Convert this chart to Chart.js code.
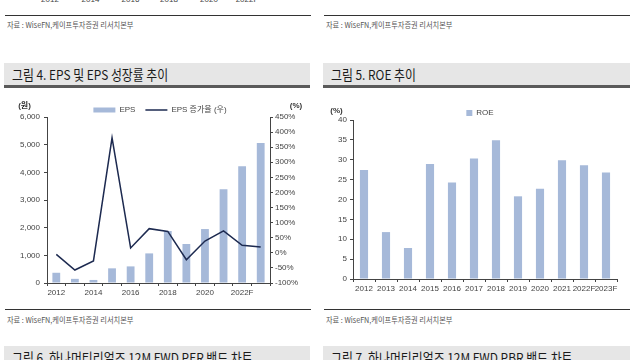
<!DOCTYPE html>
<html><head><meta charset="utf-8">
<script src="https://cdn.jsdelivr.net/npm/chart.js@4.4.0/dist/chart.umd.min.js"></script>
<style>
html,body{margin:0;padding:0;background:#fff;width:640px;height:360px;overflow:hidden;position:relative;font-family:'Noto Sans CJK KR','Liberation Sans',sans-serif;}
.rule{position:absolute;height:1px;background:#333;}
.src{position:absolute;font-size:8px;color:#555;line-height:10px;white-space:nowrap;transform:scaleX(0.9);transform-origin:0 50%;}
.tbar{position:absolute;height:22px;background:#e6e6e6;border-bottom:3px solid #5a5a5a;overflow:hidden;}
.ttl{position:absolute;left:8px;top:0;line-height:22px;font-size:13.5px;color:#1a1a1a;white-space:nowrap;transform:scaleX(0.88);transform-origin:0 50%;}
.cut{position:absolute;top:-5px;font-size:8px;line-height:10px;color:#444;font-family:'Liberation Sans',sans-serif;transform:translateX(-50%);white-space:nowrap;}
canvas{position:absolute;}
</style>
</head>
<body>
<div id="cutLabels"></div>
<div class="rule" style="left:5px;top:15px;width:306px;"></div>
<div class="src" style="left:7px;top:20px;">자료 : WiseFN,케이프투자증권 리서치본부</div>
<div class="rule" style="left:324px;top:15px;width:306px;"></div>
<div class="src" style="left:326px;top:20px;">자료 : WiseFN,케이프투자증권 리서치본부</div>

<div class="tbar" style="left:4px;top:63px;width:306px;"><div class="ttl">그림 4. EPS 및 EPS 성장률 추이</div></div>
<div class="tbar" style="left:323px;top:63px;width:307px;"><div class="ttl">그림 5. ROE 추이</div></div>

<canvas id="c1" width="320" height="212" style="left:0px;top:96px;"></canvas>
<canvas id="c2" width="320" height="206" style="left:320px;top:99px;"></canvas>

<div class="rule" style="left:5px;top:309px;width:306px;"></div>
<div class="src" style="left:7px;top:315px;">자료 : WiseFN,케이프투자증권 리서치본부</div>
<div class="rule" style="left:324px;top:309px;width:306px;"></div>
<div class="src" style="left:326px;top:315px;">자료 : WiseFN,케이프투자증권 리서치본부</div>

<div class="tbar" style="left:4px;top:346px;width:306px;"><div class="ttl">그림 6. 하나머티리얼즈 12M FWD PER 밴드 차트</div></div>
<div class="tbar" style="left:323px;top:346px;width:307px;"><div class="ttl">그림 7. 하나머티리얼즈 12M FWD PBR 밴드 차트</div></div>

<script>
// ---- data ----
const categories = ['2012','2013','2014','2015','2016','2017','2018','2019','2020','2021','2022F','2023F'];
const epsValues  = [370, 150, 110, 530, 600, 1070, 1880, 1410, 1950, 3390, 4220, 5060];
const epsGrowth  = [-5, -57, -27, 381, 16, 80, 71, -23, 39, 73, 25, 19];
const roeValues  = [27.4, 11.8, 7.8, 28.9, 24.3, 30.3, 34.9, 20.8, 22.7, 29.9, 28.6, 26.8];
const prevChartTickLabels = ['2012','2014','2016','2018','2020','2022F'];
const prevChartTickX = [50, 90.5, 130.5, 169, 209, 247];

// previous (cut-off) chart's x labels at the very top
const cutDiv = document.getElementById('cutLabels');
prevChartTickLabels.forEach((t, i) => {
  const s = document.createElement('div');
  s.className = 'cut'; s.style.left = prevChartTickX[i] + 'px'; s.textContent = t;
  cutDiv.appendChild(s);
});

const FONT = "'Liberation Sans','Noto Sans CJK KR',sans-serif";
const BAR = '#a6b9d9';
const LINE = '#1d2a50';
const AX = '#444';

const legendTrim = {
  id: 'legendTrim',
  afterInit(chart, args, opts) {
    const lg = chart.legend;
    if (!lg) return;
    const fit = lg.fit.bind(lg);
    lg.fit = function () { fit(); this.height = Math.max(0, this.height - (opts.trim || 0)); };
  }
};
const axisUnits = {
  id: 'axisUnits',
  afterDraw(chart, args, opts) {
    const ctx = chart.ctx;
    ctx.save();
    ctx.font = 'bold 8px ' + FONT;
    ctx.fillStyle = '#333';
    ctx.textAlign = 'center';
    ctx.textBaseline = 'middle';
    (opts.items || []).forEach(it => {
      const s = chart.scales[it.scale];
      const x = it.side === 'left' ? s.right - it.dx : s.left + it.dx;
      ctx.fillText(it.text, x, chart.chartArea.top - it.dy);
    });
    ctx.restore();
  }
};

const tickFont = {size: 8, family: FONT};
const fmt = v => Number(v).toLocaleString('en-US');

new Chart(document.getElementById('c1'), {
  data: {
    labels: categories,
    datasets: [
      {type: 'line', label: 'EPS 증가율 (우)', data: epsGrowth, yAxisID: 'y1', borderColor: LINE, backgroundColor: LINE,
       borderWidth: 1.5, pointRadius: 0, pointStyle: 'line', tension: 0, order: 1},
      {type: 'bar', label: 'EPS', data: epsValues, yAxisID: 'y', backgroundColor: BAR, borderWidth: 0,
       categoryPercentage: 1, barPercentage: 0.42, pointStyle: 'rect', order: 2}
    ]
  },
  options: {
    responsive: false, animation: false, devicePixelRatio: 1,
    layout: {padding: 0},
    plugins: {
      legend: {display: true, position: 'top', reverse: true,
        labels: {usePointStyle: true, pointStyleWidth: 22, boxHeight: 5, padding: 10, color: AX, font: tickFont}},
      tooltip: {enabled: false},
      legendTrim: {trim: 7},
      axisUnits: {items: [
        {scale: 'y', side: 'left', dx: 22.5, dy: 11, text: '(원)'},
        {scale: 'y1', side: 'right', dx: 26, dy: 11, text: '(%)'}
      ]}
    },
    scales: {
      x: {
        grid: {display: true, drawOnChartArea: false, tickLength: 3, color: AX},
        border: {color: AX},
        ticks: {autoSkip: false, maxRotation: 0, padding: 2, color: AX, font: tickFont,
          callback: (v, i) => (i % 2 === 0 ? categories[i] : '')},
        afterFit: s => { s.height = 25; }
      },
      y: {
        position: 'left', min: 0, max: 6000,
        grid: {drawOnChartArea: false, tickLength: 3, color: AX},
        border: {color: AX},
        ticks: {stepSize: 1000, padding: 4, color: AX, font: tickFont, callback: v => fmt(v)},
        afterFit: s => { s.width = 47; }
      },
      y1: {
        position: 'right', min: -100, max: 450,
        grid: {drawOnChartArea: false, tickLength: 3, color: AX},
        border: {color: AX},
        ticks: {stepSize: 50, padding: 2, color: AX, font: tickFont, callback: v => v + '%'},
        afterFit: s => { s.width = 50; }
      }
    }
  },
  plugins: [legendTrim, axisUnits]
});

new Chart(document.getElementById('c2'), {
  type: 'bar',
  data: {
    labels: categories,
    datasets: [
      {label: 'ROE', data: roeValues, backgroundColor: BAR, borderWidth: 0, categoryPercentage: 1, barPercentage: 0.37}
    ]
  },
  options: {
    responsive: false, animation: false, devicePixelRatio: 1,
    layout: {padding: 0},
    plugins: {
      legend: {display: true, position: 'top',
        labels: {boxWidth: 6, boxHeight: 6, padding: 10, color: AX, font: tickFont}},
      tooltip: {enabled: false},
      legendTrim: {trim: 7},
      axisUnits: {items: [
        {scale: 'y', side: 'left', dx: 16.5, dy: 9.5, text: '(%)'}
      ]}
    },
    scales: {
      x: {
        grid: {display: true, drawOnChartArea: false, tickLength: 3, color: AX},
        border: {color: AX},
        ticks: {autoSkip: false, maxRotation: 0, padding: 2, color: AX, font: tickFont},
        afterFit: s => { s.height = 26; }
      },
      y: {
        min: 0, max: 40,
        grid: {drawOnChartArea: false, tickLength: 3, color: AX},
        border: {color: AX},
        ticks: {stepSize: 5, padding: 3, color: AX, font: tickFont},
        afterFit: s => { s.width = 33; }
      },
      spacer: {
        type: 'linear', position: 'right', display: true,
        grid: {display: false}, border: {display: false}, ticks: {display: false},
        afterFit: s => { s.width = 23; }
      }
    }
  },
  plugins: [legendTrim, axisUnits]
});
</script>
</body></html>
